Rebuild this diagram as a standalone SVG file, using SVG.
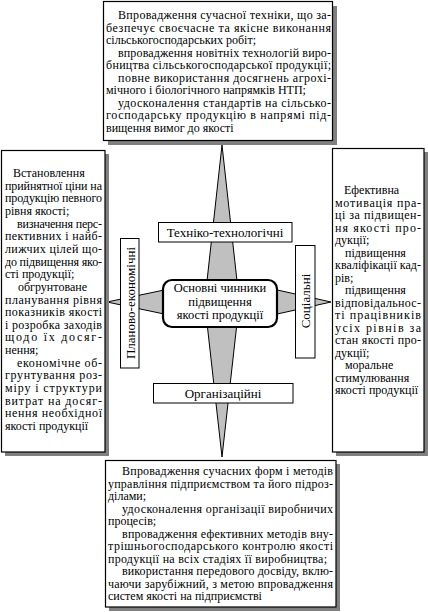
<svg xmlns="http://www.w3.org/2000/svg" width="428" height="612" viewBox="0 0 428 612">
<style>
.bg{fill:#ffffff}
.box{fill:#ffffff;stroke:#000000;stroke-width:1.2}
.shadow{fill:#808080}
.lbl{fill:#ffffff;stroke:#000000;stroke-width:1}
.core{fill:#ffffff;stroke:#000000;stroke-width:2.2}
.star{fill:#c0c0c0;stroke:#000000;stroke-width:1}
text{font-family:"Liberation Serif","Times New Roman",serif;fill:#000000}
.t{font-size:12px}
.l{font-size:13px;text-anchor:middle}
.c{font-size:12.5px;text-anchor:middle}
</style>
<rect class="bg" x="0" y="0" width="428" height="612"/>
<g id="connectors">
<polygon class="star" points="222,145 237,281 331,302 237,323 222,457 207,323 107,302 207,281"/>
</g>
<g id="node-top">
<rect class="shadow" x="108" y="6" width="229" height="139"/>
<rect class="box" x="103.5" y="1.5" width="229" height="139"/>
<text class="t" lengthAdjust="spacing">
<tspan x="118" y="19" textLength="213">Впровадження сучасної техніки, що за-</tspan>
<tspan x="106" y="31.5" textLength="225">безпечує своєчасне та якісне виконання</tspan>
<tspan x="106" y="44">сільськогосподарських робіт;</tspan>
<tspan x="118" y="56.5" textLength="213">впровадження новітніх технологій виро-</tspan>
<tspan x="106" y="69" textLength="225">бництва сільськогосподарської продукції;</tspan>
<tspan x="118" y="81.5" textLength="213">повне використання досягнень агрохі-</tspan>
<tspan x="106" y="94">мічного і біологічного напрямків НТП;</tspan>
<tspan x="118" y="106.5" textLength="213">удосконалення стандартів на сільсько-</tspan>
<tspan x="106" y="119" textLength="225">господарську продукцію в напрямі під-</tspan>
<tspan x="106" y="131.5">вищення вимог до якості</tspan>
</text>
</g>
<g id="node-left">
<rect class="shadow" x="5" y="154" width="104" height="302"/>
<rect class="box" x="1.5" y="150.5" width="103.5" height="301.5"/>
<text class="t" lengthAdjust="spacing">
<tspan x="13" y="177">Встановлення</tspan>
<tspan x="5" y="189.65" textLength="97">прийнятної ціни на</tspan>
<tspan x="5" y="202.3" textLength="97">продукцію певного</tspan>
<tspan x="5" y="214.95">рівня якості;</tspan>
<tspan x="17" y="227.6" textLength="85">визначення перс-</tspan>
<tspan x="5" y="240.25" textLength="97">пективних і найб-</tspan>
<tspan x="5" y="252.9" textLength="97">лижчих цілей що-</tspan>
<tspan x="5" y="265.55" textLength="97">до підвищення яко-</tspan>
<tspan x="5" y="278.2">сті продукції;</tspan>
<tspan x="18" y="290.85">обгрунтоване</tspan>
<tspan x="5" y="303.5" textLength="97">планування рівня</tspan>
<tspan x="5" y="316.15" textLength="97">показників якості</tspan>
<tspan x="5" y="328.8" textLength="97">і розробка заходів</tspan>
<tspan x="5" y="341.45" textLength="97">щодо їх досяг-</tspan>
<tspan x="5" y="354.1">нення;</tspan>
<tspan x="17" y="366.75" textLength="85">економічне об-</tspan>
<tspan x="5" y="379.4" textLength="97">грунтування роз-</tspan>
<tspan x="5" y="392.05" textLength="97">міру і структури</tspan>
<tspan x="5" y="404.7" textLength="97">витрат на досяг-</tspan>
<tspan x="5" y="417.35" textLength="97">нення необхідної</tspan>
<tspan x="5" y="430">якості продукції</tspan>
</text>
</g>
<g id="node-right">
<rect class="shadow" x="336" y="152" width="92" height="304"/>
<rect class="box" x="332.5" y="148.5" width="91.5" height="303.5"/>
<text class="t" lengthAdjust="spacing">
<tspan x="344" y="194">Ефективна</tspan>
<tspan x="335" y="206.5" textLength="86">мотивація пра-</tspan>
<tspan x="335" y="219" textLength="86">ці за підвищен-</tspan>
<tspan x="335" y="231.5" textLength="86">ня якості про-</tspan>
<tspan x="335" y="244">дукції;</tspan>
<tspan x="345" y="256.5">підвищення</tspan>
<tspan x="335" y="269" textLength="86">кваліфікації кад-</tspan>
<tspan x="335" y="281.5">рів;</tspan>
<tspan x="345" y="294">підвищення</tspan>
<tspan x="335" y="306.5" textLength="86">відповідальнос-</tspan>
<tspan x="335" y="319" textLength="86">ті працівників</tspan>
<tspan x="335" y="331.5" textLength="86">усіх рівнів за</tspan>
<tspan x="335" y="344" textLength="86">стан якості про-</tspan>
<tspan x="335" y="356.5">дукції;</tspan>
<tspan x="345" y="369">моральне</tspan>
<tspan x="335" y="381.5">стимулювання</tspan>
<tspan x="335" y="394">якості продукції</tspan>
</text>
</g>
<g id="node-bottom">
<rect class="shadow" x="109" y="464" width="231" height="147"/>
<rect class="box" x="105.5" y="460.5" width="230.5" height="146.5"/>
<text class="t" lengthAdjust="spacing">
<tspan x="122" y="475" textLength="211">Впровадження сучасних форм і методів</tspan>
<tspan x="108" y="487.5" textLength="225">управління підприємством та його підроз-</tspan>
<tspan x="108" y="500">ділами;</tspan>
<tspan x="122" y="512.5" textLength="211">удосконалення організації виробничих</tspan>
<tspan x="108" y="525">процесів;</tspan>
<tspan x="122" y="537.5" textLength="211">впровадження ефективних методів вну-</tspan>
<tspan x="108" y="550" textLength="225">трішньогосподарського контролю якості</tspan>
<tspan x="108" y="562.5" textLength="219">продукції на всіх стадіях її виробництва;</tspan>
<tspan x="122" y="575" textLength="211">використання передового досвіду, вклю-</tspan>
<tspan x="108" y="587.5" textLength="225">чаючи зарубіжний, з метою впровадження</tspan>
<tspan x="108" y="600">систем якості на підприємстві</tspan>
</text>
</g>
<g id="label-tech">
<rect class="lbl" x="158.5" y="222.5" width="133.5" height="19.5"/>
<text class="l" x="225" y="237">Техніко-технологічні</text>
</g>
<g id="label-org">
<rect class="lbl" x="153.5" y="383.5" width="139.5" height="19.5"/>
<text class="l" x="223" y="398">Організаційні</text>
</g>
<g id="label-plan">
<rect class="lbl" x="120.5" y="238.5" width="18.5" height="129.5"/>
<text class="l" x="134.5" y="303" transform="rotate(-90 134.5 303)">Планово-економічні</text>
</g>
<g id="label-social">
<rect class="lbl" x="295.5" y="245.5" width="19.5" height="112.5"/>
<text class="l" x="309.5" y="301" transform="rotate(-90 309.5 301)">Соціальні</text>
</g>
<g id="node-center">
<rect class="core" x="163" y="280" width="114" height="47" rx="9" ry="9"/>
<text class="c" x="220" y="292">Основні чинники</text>
<text class="c" x="220" y="305.5">підвищення</text>
<text class="c" x="220" y="319">якості продукції</text>
</g>
</svg>
